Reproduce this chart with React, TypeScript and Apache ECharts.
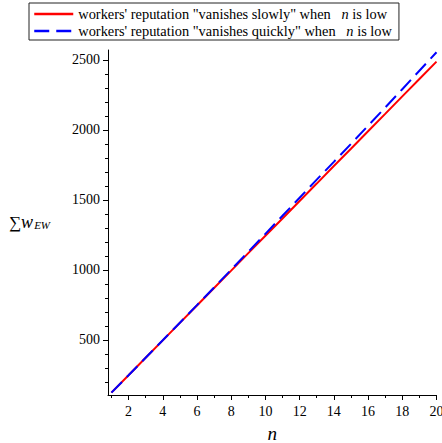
import React, { useEffect, useRef } from "react";
import * as echarts from "echarts";

const nValues = [1, 2, 3, 4, 5, 6, 7, 8, 9, 10, 11, 12, 13, 14, 15, 16, 17, 18, 19, 20];
const slowValues = [124, 248, 373, 497, 622, 746, 871, 995, 1120, 1244, 1368, 1493, 1617, 1742, 1866, 1991, 2115, 2240, 2364, 2488];
const quickValues = [124, 248, 373, 498, 623, 749, 875, 1002, 1130, 1258, 1387, 1516, 1645, 1772, 1900, 2030, 2160, 2291, 2423, 2555];
const xMajorTicks = [2, 4, 6, 8, 10, 12, 14, 16, 18, 20];
const xMinorTicks = [1, 3, 5, 7, 9, 11, 13, 15, 17, 19];
const yMajorTicks = [500, 1000, 1500, 2000, 2500];
const yMinorTicks = [200, 300, 400, 600, 700, 800, 900, 1100, 1200, 1300, 1400, 1600, 1700, 1800, 1900, 2100, 2200, 2300, 2400];
const seriesNames = ["slow", "quick"];
const legendLabels: Record<string, string> = {
  slow: "{a|workers' reputation \"vanishes slowly\" when   }{i|n}{a| is low}",
  quick: "{a|workers' reputation \"vanishes quickly\" when   }{i|n}{a| is low}",
};

const FONT = "'Liberation Serif', 'Times New Roman', serif";

export default function App() {
  const ref = useRef<HTMLDivElement>(null);
  useEffect(() => {
    if (!ref.current) return;
    const chart = echarts.init(ref.current, null, { renderer: "svg" });
    const xMin = 0.8, xMax = 20, yMin = 107, yMax = 2571;
    const axisLine = { show: true, lineStyle: { color: "#000", width: 1 } };
    const fmt = (v: number) => String(v);
    chart.setOption({
      animation: false,
      backgroundColor: "#fff",
      textStyle: { fontFamily: FONT },
      grid: { left: 108, right: 5.5, top: 50, bottom: 48, containLabel: false, outerBoundsMode: "none" },
      legend: {
        show: true,
        orient: "vertical",
        left: 29,
        top: 3,
        padding: [4, 7, 2, 4],
        itemGap: 3,
        itemWidth: 39,
        itemHeight: 14,
        borderColor: "#222",
        borderWidth: 1,
        data: seriesNames,
        itemStyle: { opacity: 0 },
        lineStyle: { width: 2.5 },
        formatter: (name: string) => legendLabels[name],
        textStyle: {
          fontFamily: FONT,
          fontSize: 14.4,
          color: "#000",
          rich: {
            a: { fontFamily: FONT, fontSize: 14.4, color: "#000", lineHeight: 14 },
            i: { fontFamily: FONT, fontSize: 14.4, fontStyle: "italic", color: "#000", lineHeight: 14 },
          },
        },
      },
      xAxis: [
        {
          type: "value",
          min: xMin,
          max: xMax,
          position: "bottom",
          axisLine,
          splitLine: { show: false },
          axisTick: { show: true, customValues: xMajorTicks, length: 5, lineStyle: { color: "#000" } },
          axisLabel: { show: true, customValues: xMajorTicks, formatter: fmt, fontFamily: FONT, fontSize: 14, color: "#000", margin: 9 },
          name: "n",
          nameLocation: "middle",
          nameGap: 29,
          nameTextStyle: { fontFamily: FONT, fontSize: 19, fontStyle: "italic", color: "#000" },
        },
        {
          type: "value",
          min: xMin,
          max: xMax,
          position: "bottom",
          offset: 0,
          axisLine: { show: false },
          splitLine: { show: false },
          axisTick: { show: true, customValues: xMinorTicks, length: 3, lineStyle: { color: "#000" } },
          axisLabel: { show: false },
        },
      ],
      yAxis: [
        {
          type: "value",
          min: yMin,
          max: yMax,
          position: "left",
          axisLine,
          splitLine: { show: false },
          axisTick: { show: true, customValues: yMajorTicks, length: 5, lineStyle: { color: "#000" } },
          axisLabel: { show: true, customValues: yMajorTicks, formatter: fmt, fontFamily: FONT, fontSize: 14, color: "#000", margin: 8 },
        },
        {
          type: "value",
          min: yMin,
          max: yMax,
          position: "left",
          offset: 0,
          axisLine: { show: false },
          splitLine: { show: false },
          axisTick: { show: true, customValues: yMinorTicks, length: 3, lineStyle: { color: "#000" } },
          axisLabel: { show: false },
        },
      ],
      graphic: [
        {
          type: "text",
          left: 9,
          top: 213,
          style: {
            text: "{s|∑}{w|w}{e|EW}",
            rich: {
              s: { fontFamily: FONT, fontSize: 17, color: "#000" },
              w: { fontFamily: FONT, fontSize: 18, fontStyle: "italic", color: "#000" },
              e: { fontFamily: FONT, fontSize: 11, fontStyle: "italic", color: "#000", padding: [5, 0, 0, 1] },
            },
          },
        },
      ],
      series: [
        {
          name: "slow",
          type: "line",
          xAxisIndex: 0,
          yAxisIndex: 0,
          data: nValues.map((n, i) => [n, slowValues[i]]),
          showSymbol: false,
          symbol: "none",
          lineStyle: { color: "#ff0000", width: 2 },
          itemStyle: { color: "#ff0000" },
        },
        {
          name: "quick",
          type: "line",
          xAxisIndex: 0,
          yAxisIndex: 0,
          data: nValues.map((n, i) => [n, quickValues[i]]),
          showSymbol: false,
          symbol: "none",
          lineStyle: { color: "#0000ff", width: 2, type: [15, 7] },
          itemStyle: { color: "#0000ff" },
        },
      ],
    });
    return () => chart.dispose();
  }, []);
  return (
    <div
      ref={ref}
      style={{ position: "fixed", left: 0, top: 0, width: 442, height: 443, background: "#fff" }}
    />
  );
}
